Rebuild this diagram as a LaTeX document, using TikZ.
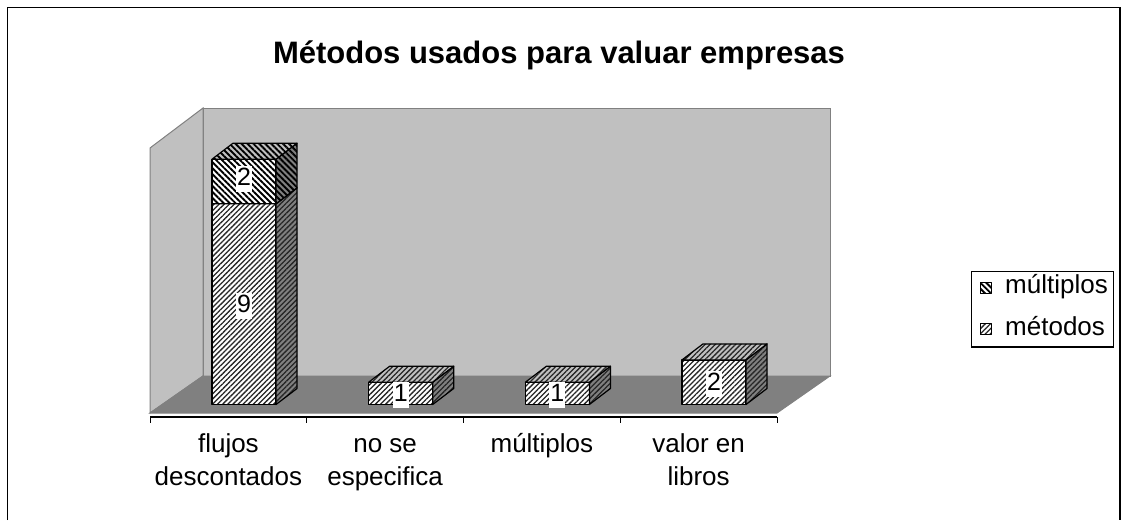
\documentclass[tikz,border=0pt]{standalone}
\usepackage{fontspec}
\setmainfont{Liberation Sans}
\usetikzlibrary{patterns.meta}
\definecolor{wallgray}{HTML}{C0C0C0}
\definecolor{floorgray}{HTML}{808080}
\tikzset{
  wall/.style={fill=wallgray, draw=floorgray, line width=1pt},
  floorface/.style={fill=floorgray, draw=floorgray, line width=1pt},
  metlines/.style={pattern={Lines[angle=45,distance=3.6pt,line width=1.3pt]}, pattern color=black!85},
  mullines/.style={pattern={Lines[angle=-45,distance=4.2pt,line width=1.9pt]}, pattern color=black},
  metfront/.style={preaction={fill=white}, metlines, draw=black, line width=1.2pt, line join=round},
  metside/.style={preaction={fill=floorgray}, metlines, draw=black, line width=1.2pt, line join=round},
  mettop/.style={preaction={fill=wallgray}, metlines, draw=black, line width=1.2pt, line join=round},
  mulfront/.style={preaction={fill=white}, mullines, draw=black, line width=1.2pt, line join=round},
  mulside/.style={preaction={fill=floorgray}, mullines, draw=black, line width=1.2pt, line join=round},
  multop/.style={preaction={fill=wallgray}, mullines, draw=black, line width=1.2pt, line join=round},
  vallabel/.style={fill=white, inner xsep=1pt, inner ysep=0pt, text height=19pt, text depth=7pt,
    anchor=base, font=\fontsize{25}{30}\selectfont},
  catlabel/.style={align=center, inner sep=0pt, anchor=base, font=\fontsize{26}{33}\selectfont},
  legtext/.style={inner sep=0pt, anchor=base west, font=\fontsize{26}{30}\selectfont}
}
\newcommand{\chartbar}[4]{%
  \draw[#4front] (#1,#2) rectangle (#1+64,#3);
  \draw[#4side] (#1+64,#2) -- ++(21,-16) -- (#1+85,#3-16) -- (#1+64,#3) -- cycle;
  \draw[#4top] (#1,#3) -- ++(21,-16) -- ++(64,0) -- (#1+64,#3) -- cycle;
}
\begin{document}
\begin{tikzpicture}[x=1pt, y=-1pt]
  \useasboundingbox (0,0) rectangle (1121,520);
  \draw[line width=1.5pt] (7.5,520) -- (7.5,7.5) -- (1120,7.5) -- (1120,520);

  \node[anchor=base, font=\fontsize{31}{36}\selectfont\bfseries] (title) at (559,63) {Métodos usados para valuar empresas};

  \draw[wall] (203,108) rectangle (830,376);
  \draw[wall] (150,148) -- (203,108) -- (203,376) -- (150,413) -- cycle;
  \draw[floorface] (150,413) -- (203,376) -- (830,376) -- (777,413) -- cycle;

  \draw[line width=1.2pt] (150,417) -- (777,417);
  \foreach \x in {150,306.75,463.5,620.25,777}
    \draw[line width=1pt] (\x,417) -- (\x,423);

  \chartbar{212}{404.5}{203.8}{met}
  \chartbar{212}{203.8}{159.2}{mul}
  \chartbar{368.7}{404.5}{382.2}{met}
  \chartbar{525.4}{404.5}{382.2}{met}
  \chartbar{682}{404.5}{359.9}{met}

  \node[vallabel] (v1) at (244,312) {9};
  \node[vallabel] (v2) at (244,185) {2};
  \node[vallabel] (v3) at (400.7,401) {1};
  \node[vallabel] (v4) at (557.4,401) {1};
  \node[vallabel] (v5) at (714,390) {2};

  \node[catlabel] (cat1) at (228.4,485) {flujos\\descontados};
  \node[catlabel] (cat2) at (385.1,485) {no se\\especifica};
  \node[catlabel] (cat3) at (541.9,452) {múltiplos};
  \node[catlabel] (cat4) at (698.6,485) {valor en\\libros};

  \draw[line width=1.2pt] (971.5,271.5) rectangle (1113.5,347);
  \draw[mulfront, line width=1pt] (980,282) rectangle (991,293);
  \draw[metfront, line width=1pt] (980,323) rectangle (991,334);
  \node[legtext] (leg1) at (1005,293) {múltiplos};
  \node[legtext] (leg2) at (1005,335) {métodos};
\end{tikzpicture}
\end{document}
